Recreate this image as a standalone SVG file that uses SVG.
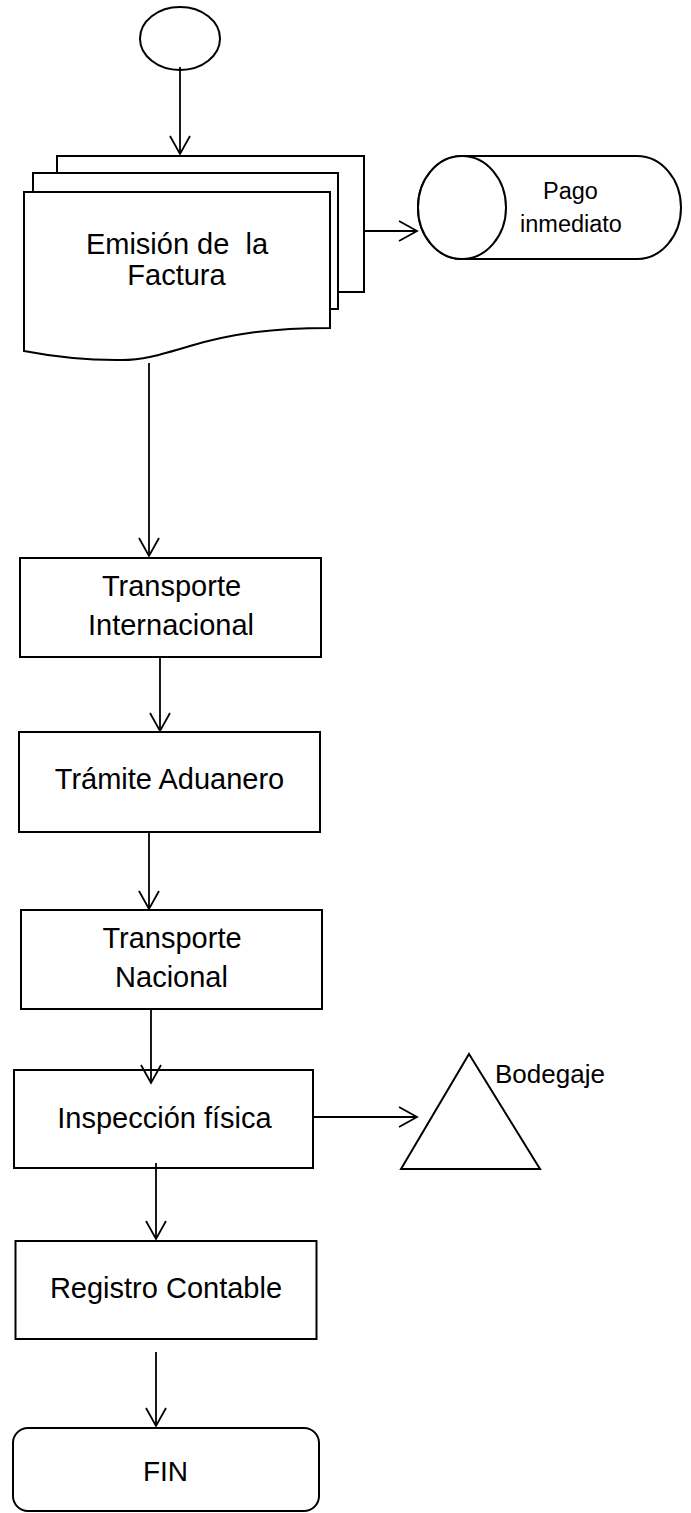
<svg xmlns="http://www.w3.org/2000/svg" width="691" height="1513" viewBox="0 0 691 1513">
  <style>
    .shape { fill: #fff; stroke: #000; stroke-width: 2; }
    .conn { fill: none; stroke: #000; stroke-width: 1.8; }
    .lbl { font-family: "Liberation Sans", Arial, sans-serif; fill: #000; text-anchor: middle; }
    .big { font-size: 29px; }
    .mid { font-size: 23.5px; }
  </style>
  <defs>
    <marker id="arrow" markerUnits="userSpaceOnUse" orient="auto" refX="0" refY="0" markerWidth="24" markerHeight="24" overflow="visible">
      <path d="M-18,-10 L0,0 L-18,10" fill="none" stroke="#000" stroke-width="1.8"/>
    </marker>
  </defs>
  <rect width="691" height="1513" fill="#fff"/>

  <!-- start terminator -->
  <g id="start">
    <ellipse class="shape" cx="180" cy="38.5" rx="40" ry="31.5"/>
  </g>

  <!-- multi-document: invoice issuing -->
  <g id="emision">
    <rect class="shape" x="57" y="156" width="307" height="136"/>
    <rect class="shape" x="33" y="173" width="305" height="136"/>
    <path class="shape" d="M24,192 H330 V328 C270,328 230,334 190,346 C160,355 140,361 117,360 C80,360 50,356 24,351 Z"/>
    <text class="lbl big" x="177" y="254" xml:space="preserve">Emisión de  la</text>
    <text class="lbl big" x="176.5" y="285">Factura</text>
  </g>

  <!-- stored data: immediate payment -->
  <g id="pago">
    <path class="shape" d="M462,156 H637 A44,51.5 0 0 1 637,259 H462 A44,51.5 0 0 1 462,156 Z"/>
    <ellipse class="shape" cx="462" cy="207.5" rx="44" ry="51.5"/>
    <text class="lbl mid" x="570.5" y="199">Pago</text>
    <text class="lbl mid" x="571" y="232">inmediato</text>
  </g>

  <g id="transporte-internacional">
    <rect class="shape" x="20" y="558" width="301" height="99"/>
    <text class="lbl big" x="171.5" y="596">Transporte</text>
    <text class="lbl big" x="171" y="635">Internacional</text>
  </g>

  <g id="tramite-aduanero">
    <rect class="shape" x="19" y="732" width="301" height="100"/>
    <text class="lbl big" x="169.5" y="789">Trámite Aduanero</text>
  </g>

  <g id="transporte-nacional">
    <rect class="shape" x="21" y="910" width="301" height="99"/>
    <text class="lbl big" x="172" y="948">Transporte</text>
    <text class="lbl big" x="171.5" y="987">Nacional</text>
  </g>

  <g id="inspeccion">
    <rect class="shape" x="14" y="1070" width="299" height="98"/>
    <text class="lbl big" x="164.5" y="1128">Inspección física</text>
  </g>

  <!-- storage: warehousing -->
  <g id="bodegaje">
    <polygon class="shape" points="469,1054 540,1169 401,1169"/>
    <text class="lbl" x="495" y="1083" style="font-size:26px;text-anchor:start">Bodegaje</text>
  </g>

  <g id="registro">
    <rect class="shape" x="15.5" y="1241" width="301" height="98"/>
    <text class="lbl big" x="166" y="1298">Registro Contable</text>
  </g>

  <g id="fin">
    <rect class="shape" x="13" y="1428" width="306" height="83" rx="15" ry="15"/>
    <text class="lbl" x="165.5" y="1481" style="font-size:28px">FIN</text>
  </g>

  <!-- connectors, drawn last so arrowheads sit over the boxes -->
  <g id="connectors" class="conn">
    <path d="M180,67 V154" marker-end="url(#arrow)"/>
    <path d="M364,231 H417" marker-end="url(#arrow)"/>
    <path d="M149,363 V556" marker-end="url(#arrow)"/>
    <path d="M160,657 V731" marker-end="url(#arrow)"/>
    <path d="M149,832 V909" marker-end="url(#arrow)"/>
    <path d="M151,1009 V1083" marker-end="url(#arrow)"/>
    <path d="M313,1117 H417" marker-end="url(#arrow)"/>
    <path d="M156,1163 V1239" marker-end="url(#arrow)"/>
    <path d="M156,1352 V1426" marker-end="url(#arrow)"/>
  </g>
</svg>
